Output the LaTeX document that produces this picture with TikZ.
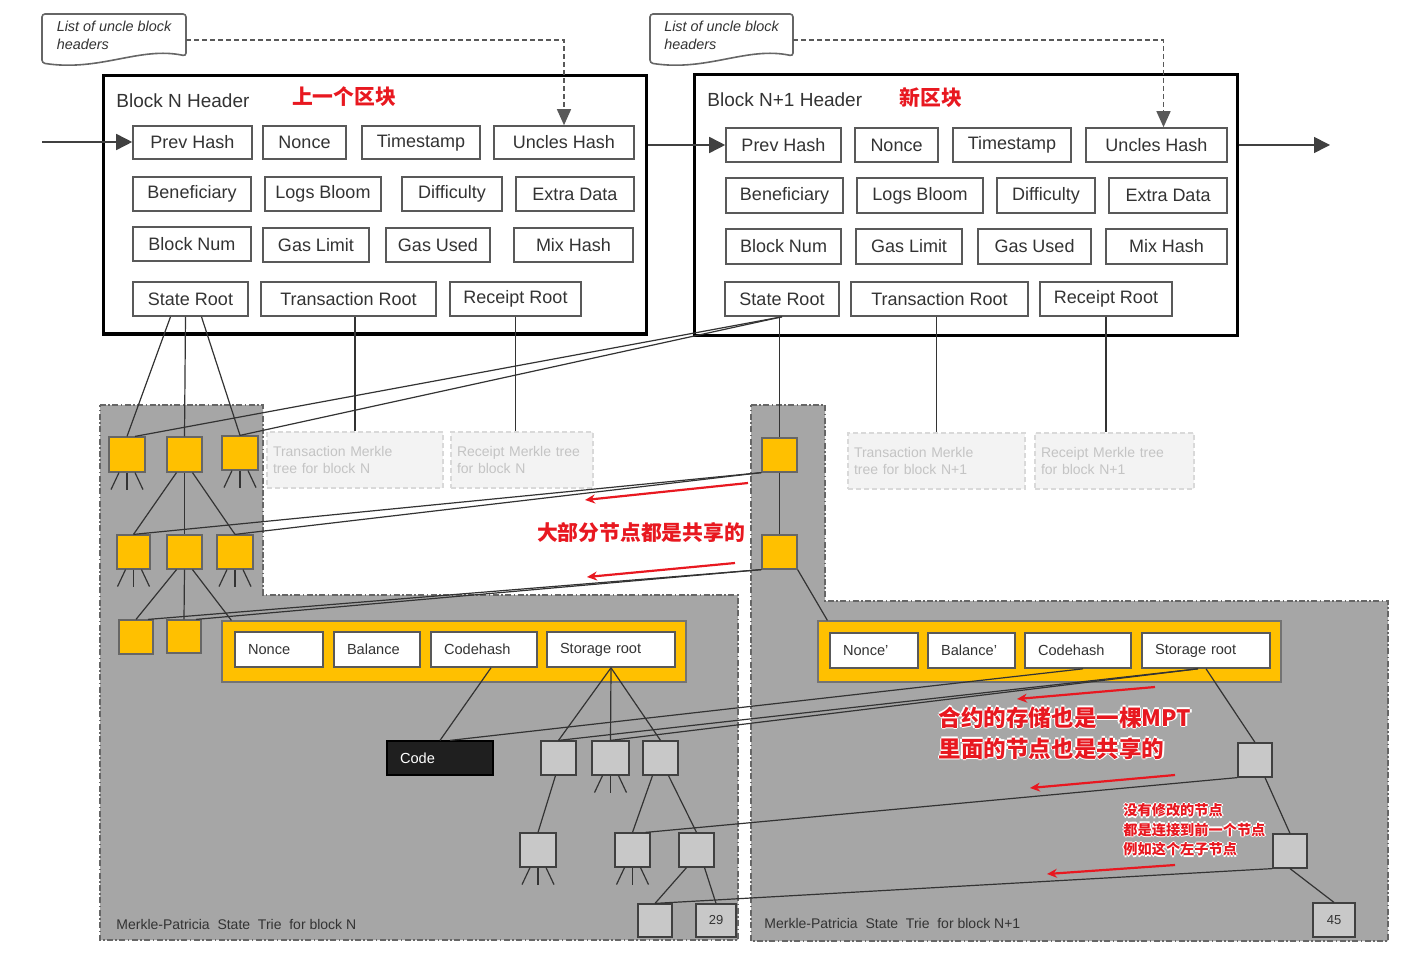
\documentclass[tikz,border=0pt]{standalone}
\usepackage{fontspec}
\setmainfont{Liberation Sans}
\newfontfamily\cjk{Noto Sans CJK SC}
\usetikzlibrary{calc}
\usetikzlibrary{arrows.meta}

\definecolor{trieyellow}{RGB}{255,192,0}
\definecolor{triegray}{RGB}{166,166,166}
\definecolor{leafgray}{RGB}{200,200,200}
\definecolor{notered}{RGB}{232,24,32}
\definecolor{ghostfill}{RGB}{243,243,243}
\definecolor{ghosttext}{RGB}{196,196,196}
\definecolor{inkgray}{RGB}{51,51,51}

% box from (x1,y1) to (x2,y2), in pixels
\newcommand{\boxnode}[7]{%
  \pgfmathsetmacro{\bw}{(#5-#3)*0.5}%
  \pgfmathsetmacro{\bh}{(#6-#4)*0.5}%
  \pgfmathsetmacro{\tw}{(#5-#3)*0.5-13}%
  \pgfmathsetmacro{\tx}{(#5-#3)*0.5-6}%
  \node[#1, minimum width=\bw pt, minimum height=\bh pt] (#2) at ({(#3+#5)/2},{(#4+#6)/2}) {#7};}
% white rim round red text
\newcommand{\redhalo}[1]{%
  \makebox[0pt][l]{\color{white}\hspace{0.7pt}#1}%
  \makebox[0pt][l]{\color{white}\hspace{-0.7pt}#1}%
  \makebox[0pt][l]{\color{white}\raisebox{0.7pt}{#1}}%
  \makebox[0pt][l]{\color{white}\raisebox{-0.7pt}{#1}}%
  #1}

\tikzset{
  hdr/.style={draw=black, line width=1.5pt},
  hdrtitle/.style={anchor=west, inner sep=0pt, text=inkgray, font=\fontsize{9.5}{11}\selectfont},
  field/.style={draw=black!65, line width=0.8pt, fill=white, inner sep=0pt, text=inkgray, font=\fontsize{9}{10}\selectfont},
  acfield/.style={field, inner xsep=6.5pt, text width=\tw pt, align=left, font=\fontsize{7.3}{8}\selectfont},
  uncle/.style={inner sep=0pt, align=left, text=inkgray, font=\itshape\fontsize{7.2}{9}\selectfont},
  notebox/.style={draw=black!60, line width=0.8pt, fill=white, rounded corners=1.5pt},
  region/.style={fill=triegray, draw=black!60, line width=0.6pt, dash pattern=on 3pt off 1.2pt on 0.8pt off 1.2pt},
  ghost/.style={fill=ghostfill, draw=black!15, line width=0.8pt, dash pattern=on 2.5pt off 1.5pt, inner xsep=3pt, inner ysep=0pt, text width=\tx pt, align=left, text=ghosttext, font=\fontsize{7}{8.5}\selectfont},
  ynode/.style={draw=black!60, line width=0.6pt, fill=trieyellow},
  gnode/.style={draw=black!75, line width=0.6pt, fill=leafgray, inner sep=0pt, text=inkgray, font=\fontsize{6.5}{7}\selectfont},
  acct/.style={draw=black!55, line width=0.6pt, fill=trieyellow},
  codebox/.style={fill=black!88, draw=black, line width=0.6pt, text=white, inner xsep=6.5pt, text width=\tw pt, align=left, font=\fontsize{7.3}{8}\selectfont},
  trielabel/.style={anchor=west, inner sep=0pt, text=inkgray, font=\fontsize{7}{8}\selectfont},
  link/.style={draw=black!80, line width=0.6pt},
  blockarrow/.style={draw=black!75, line width=0.8pt, -{Triangle[length=8pt,width=8pt]}},
  unclelink/.style={draw=black!65, line width=0.7pt, dash pattern=on 2.5pt off 1.5pt, -{Triangle[length=8pt,width=7pt]}},
  redarrow/.style={draw=notered, line width=1.1pt, -{Stealth[length=5pt,width=4.5pt]}},
  redtitle/.style={text=notered, inner sep=0pt, font=\cjk\bfseries\fontsize{10.4}{12}\selectfont},
  rednote/.style={text=notered, inner sep=0pt, anchor=west, align=left, font=\cjk\bfseries\fontsize{11.3}{15.5}\selectfont},
  smallnote/.style={text=notered, inner sep=0pt, anchor=west, align=left, font=\cjk\bfseries\fontsize{7.1}{9.8}\selectfont}
}

\begin{document}
\begin{tikzpicture}[x=0.5pt, y=-0.5pt]
  \useasboundingbox (0,0) rectangle (1422,962);

  % state tries
  \draw[region] (100,405) -- (263,405) -- (263,595) -- (738,595) -- (738,940) -- (100,940) -- cycle;
  \draw[region] (751,405) -- (825,405) -- (825,601) -- (1388,601) -- (1388,941) -- (751,941) -- cycle;

  % uncle notes
  \draw[notebox] (42,14) -- (186,14) -- (186,56) .. controls (140,46) and (100,72) .. (42,63) -- cycle;
  \draw[notebox] (650,14) -- (793,14) -- (793,56) .. controls (747,46) and (707,72) .. (650,63) -- cycle;
  \boxnode{uncle}{uncA}{42}{11}{186}{59}{List of uncle block\\headers}
  \boxnode{uncle}{uncB}{650}{11}{793}{59}{List of uncle block\\headers}

  % block N
  \boxnode{hdr}{hdrA}{103}{76}{646}{334}{}
  \node[hdrtitle] (titA) at (116,101) {Block N Header};
  \node[redtitle] (oldA) at (344,97) {上一个区块};
  \boxnode{field}{phA}{133}{126}{252}{159}{Prev Hash}
  \boxnode{field}{nonA}{263}{126}{346}{159}{Nonce}
  \boxnode{field}{tsA}{362}{126}{480}{159}{Timestamp}
  \boxnode{field}{uhA}{494}{126}{634}{159}{Uncles Hash}
  \boxnode{field}{benA}{133}{177}{251}{211}{Beneficiary}
  \boxnode{field}{lbA}{265}{177}{381}{211}{Logs Bloom}
  \boxnode{field}{difA}{402}{177}{502}{211}{Difficulty}
  \boxnode{field}{edA}{516}{177}{634}{211}{Extra Data}
  \boxnode{field}{bnA}{133}{227}{251}{261}{Block Num}
  \boxnode{field}{glA}{263}{228}{369}{262}{Gas Limit}
  \boxnode{field}{guA}{386}{228}{490}{262}{Gas Used}
  \boxnode{field}{mhA}{514}{228}{633}{262}{Mix Hash}
  \boxnode{field}{srA}{133}{282}{248}{316}{State Root}
  \boxnode{field}{trA}{261}{282}{436}{316}{Transaction Root}
  \boxnode{field}{rrA}{450}{282}{581}{316}{Receipt Root}

  % block N+1
  \boxnode{hdr}{hdrB}{694}{75}{1237}{335}{}
  \node[hdrtitle] (titB) at (707,100) {Block N+1 Header};
  \node[redtitle] (newB) at (931,98) {新区块};
  \boxnode{field}{phB}{726}{128}{841}{162}{Prev Hash}
  \boxnode{field}{nonB}{855}{128}{938}{162}{Nonce}
  \boxnode{field}{tsB}{953}{128}{1071}{162}{Timestamp}
  \boxnode{field}{uhB}{1086}{128}{1227}{162}{Uncles Hash}
  \boxnode{field}{benB}{726}{178}{843}{213}{Beneficiary}
  \boxnode{field}{lbB}{857}{178}{983}{213}{Logs Bloom}
  \boxnode{field}{difB}{997}{178}{1095}{213}{Difficulty}
  \boxnode{field}{edB}{1109}{178}{1227}{213}{Extra Data}
  \boxnode{field}{bnB}{726}{229}{841}{264}{Block Num}
  \boxnode{field}{glB}{856}{229}{962}{264}{Gas Limit}
  \boxnode{field}{guB}{978}{229}{1091}{264}{Gas Used}
  \boxnode{field}{mhB}{1106}{229}{1227}{264}{Mix Hash}
  \boxnode{field}{srB}{725}{282}{839}{316}{State Root}
  \boxnode{field}{trB}{851}{282}{1028}{316}{Transaction Root}
  \boxnode{field}{rrB}{1040}{282}{1172}{316}{Receipt Root}

  % chain and uncles
  \coordinate (inA) at (42,142);
  \coordinate (outB) at (1330,145);
  \draw[blockarrow] (inA) -- (inA -| phA.west);
  \draw[blockarrow] (hdrA.east |- phB.west) -- (phB.west);
  \draw[blockarrow] (hdrB.east |- outB) -- (outB);
  \draw[unclelink] ($(uncA.east)+(0,5)$) -| (uhA.north);
  \draw[unclelink] ($(uncB.east)+(0,5)$) -| ($(uhB.north)+(7,0)$);

  % other tries
  \boxnode{ghost}{txmA}{267}{432}{443}{488}{Transaction Merkle\\tree for block N}
  \boxnode{ghost}{rcmA}{451}{432}{593}{488}{Receipt Merkle tree\\for block N}
  \boxnode{ghost}{txmB}{848}{433}{1025}{489}{Transaction Merkle\\tree for block N+1}
  \boxnode{ghost}{rcmB}{1035}{433}{1194}{489}{Receipt Merkle tree\\for block N+1}
  \draw[link] (txmA.north |- trA.south) -- (txmA.north);
  \draw[link] (rrA.south) -- (rrA.south |- rcmA.north);
  \draw[link] (txmB.north |- trB.south) -- (txmB.north);
  \draw[link] (rrB.south) -- (rrB.south |- rcmB.north);

  % trie of block N
  \boxnode{ynode}{a1}{109}{437}{145}{472}{}
  \boxnode{ynode}{a2}{167}{437}{202}{472}{}
  \boxnode{ynode}{a3}{222}{436}{258}{470}{}
  \boxnode{ynode}{b1}{117}{535}{150}{569}{}
  \boxnode{ynode}{b2}{167}{535}{202}{569}{}
  \boxnode{ynode}{b3}{217}{535}{253}{569}{}
  \boxnode{ynode}{c1}{119}{620}{153}{654}{}
  \boxnode{ynode}{c2}{167}{620}{201}{653}{}
  \boxnode{acct}{accA}{222}{621}{686}{682}{}
  \boxnode{acfield}{nA}{235}{632}{323}{667}{Nonce}
  \boxnode{acfield}{balA}{334}{632}{420}{667}{Balance}
  \boxnode{acfield}{chA}{431}{632}{537}{667}{Codehash}
  \boxnode{acfield}{stA}{547}{632}{675}{667}{Storage root}
  \boxnode{codebox}{code}{387}{741}{493}{775}{Code}
  \boxnode{gnode}{s1}{541}{741}{576}{775}{}
  \boxnode{gnode}{s2}{592}{741}{629}{775}{}
  \boxnode{gnode}{s3}{643}{741}{678}{775}{}
  \boxnode{gnode}{t1}{520}{833}{556}{867}{}
  \boxnode{gnode}{t2}{615}{833}{650}{867}{}
  \boxnode{gnode}{t3}{679}{833}{714}{867}{}
  \boxnode{gnode}{u1}{638}{904}{672}{937}{}
  \boxnode{gnode}{u29}{696}{904}{736}{937}{29}
  \node[trielabel] (labA) at (116,924) {Merkle-Patricia\ \ State\ \ Trie\ \ for block N};

  \foreach \dx/\nd in {-20/a1,-5/a2,11/a3}
    \draw[link] ($(srA.south)+(\dx,0)$) -- (\nd.north);
  \foreach \dx/\nd in {-8/b1,0/b2,8/b3}
    \draw[link] ($(a2.south)+(\dx,0)$) -- (\nd.north);
  \foreach \dx/\nd in {-8/c1,0/c2}
    \draw[link] ($(b2.south)+(\dx,0)$) -- (\nd.north);
  \draw[link] ($(b2.south)+(8,0)$) -- ($(accA.north west)+(10,0)$);
  \draw[link] ($(chA.south)+(7,0)$) -- (code.north);
  \foreach \nd in {s1,s2,s3}
    \draw[link] (stA.south) -- (\nd.north);
  \draw[link] ($(s1.south)+(-3,0)$) -- (t1.north);
  \draw[link] ($(s3.south)+(-8,0)$) -- (t2.north);
  \draw[link] ($(s3.south)+(8,0)$) -- (t3.north);
  \draw[link] ($(t3.south)+(-10,0)$) -- (u1.north);
  \draw[link] ($(t3.south)+(8,0)$) -- (u29.north);
  % stubs to further children
  \foreach \nd in {a1,a3,b1,b3,s2,t1,t2}
    \foreach \d in {-1,0,1}
      \draw[link] ($(\nd.south)+(\d*8,0)$) -- ++(\d*8,17);

  % trie of block N+1
  \boxnode{ynode}{ra}{762}{438}{797}{472}{}
  \boxnode{ynode}{rb}{762}{535}{797}{569}{}
  \boxnode{acct}{accB}{818}{621}{1281}{682}{}
  \boxnode{acfield}{nB}{830}{633}{918}{668}{Nonce'}
  \boxnode{acfield}{balB}{928}{633}{1015}{668}{Balance'}
  \boxnode{acfield}{chB}{1025}{633}{1131}{668}{Codehash}
  \boxnode{acfield}{stB}{1142}{633}{1270}{668}{Storage root}
  \boxnode{gnode}{rs1}{1238}{743}{1272}{777}{}
  \boxnode{gnode}{rs2}{1273}{834}{1307}{868}{}
  \boxnode{gnode}{r45}{1313}{903}{1355}{937}{45}
  \node[trielabel] (labB) at (764,923) {Merkle-Patricia\ \ State\ \ Trie\ \ for block N+1};

  \draw[link] (ra.north |- srB.south) -- (ra.north);
  \draw[link] (ra.south) -- (rb.north);
  \draw[link] (rb.south east) -- ($(accB.north west)+(10,0)$);
  \draw[link] (stB.south) -- (rs1.north);
  \draw[link] ($(rs1.south)+(10,0)$) -- (rs2.north);
  \draw[link] (rs2.south) -- (r45.north);

  % shared nodes
  \draw[link] (srB.south) -- ($(a1.north)+(8,0)$);
  \draw[link] (srB.south) -- (a3.north);
  \draw[link] (ra.south west) -- (b1.north);
  \draw[link] (ra.south west) -- (b3.north);
  \draw[link] (rb.south west) -- ($(c1.north)+(12,0)$);
  \draw[link] (rb.south west) -- ($(c2.north)+(12,0)$);
  \draw[link] ($(chB.south)+(5,0)$) -- ($(code.north)+(10,0)$);
  \draw[link] ($(stB.south)+(-8,0)$) -- (s1.north);
  \draw[link] ($(stB.south)+(-8,0)$) -- (s2.north);
  \draw[link] (rs1.south west) -- ($(t2.north)+(13,0)$);
  \draw[link] (rs2.south west) -- (u1.north);

  % notes
  \foreach \xa/\ya/\xb/\yb in {748/483/585/500, 735/563/587/577, 1155/687/1017/699, 1175/775/1030/788, 1175/865/1047/874}
    \draw[redarrow] (\xa,\ya) -- (\xb,\yb);
  \node[redtitle] (shared) at (641,533) {\redhalo{大部分节点都是共享的}};
  \node[rednote] (storage) at (938,733) {\redhalo{合约的存储也是一棵MPT}\\\redhalo{里面的节点也是共享的}};
  \node[smallnote] (unchanged) at (1123,830) {\redhalo{没有修改的节点}\\\redhalo{都是连接到前一个节点}\\\redhalo{例如这个左子节点}};
\end{tikzpicture}
\end{document}
